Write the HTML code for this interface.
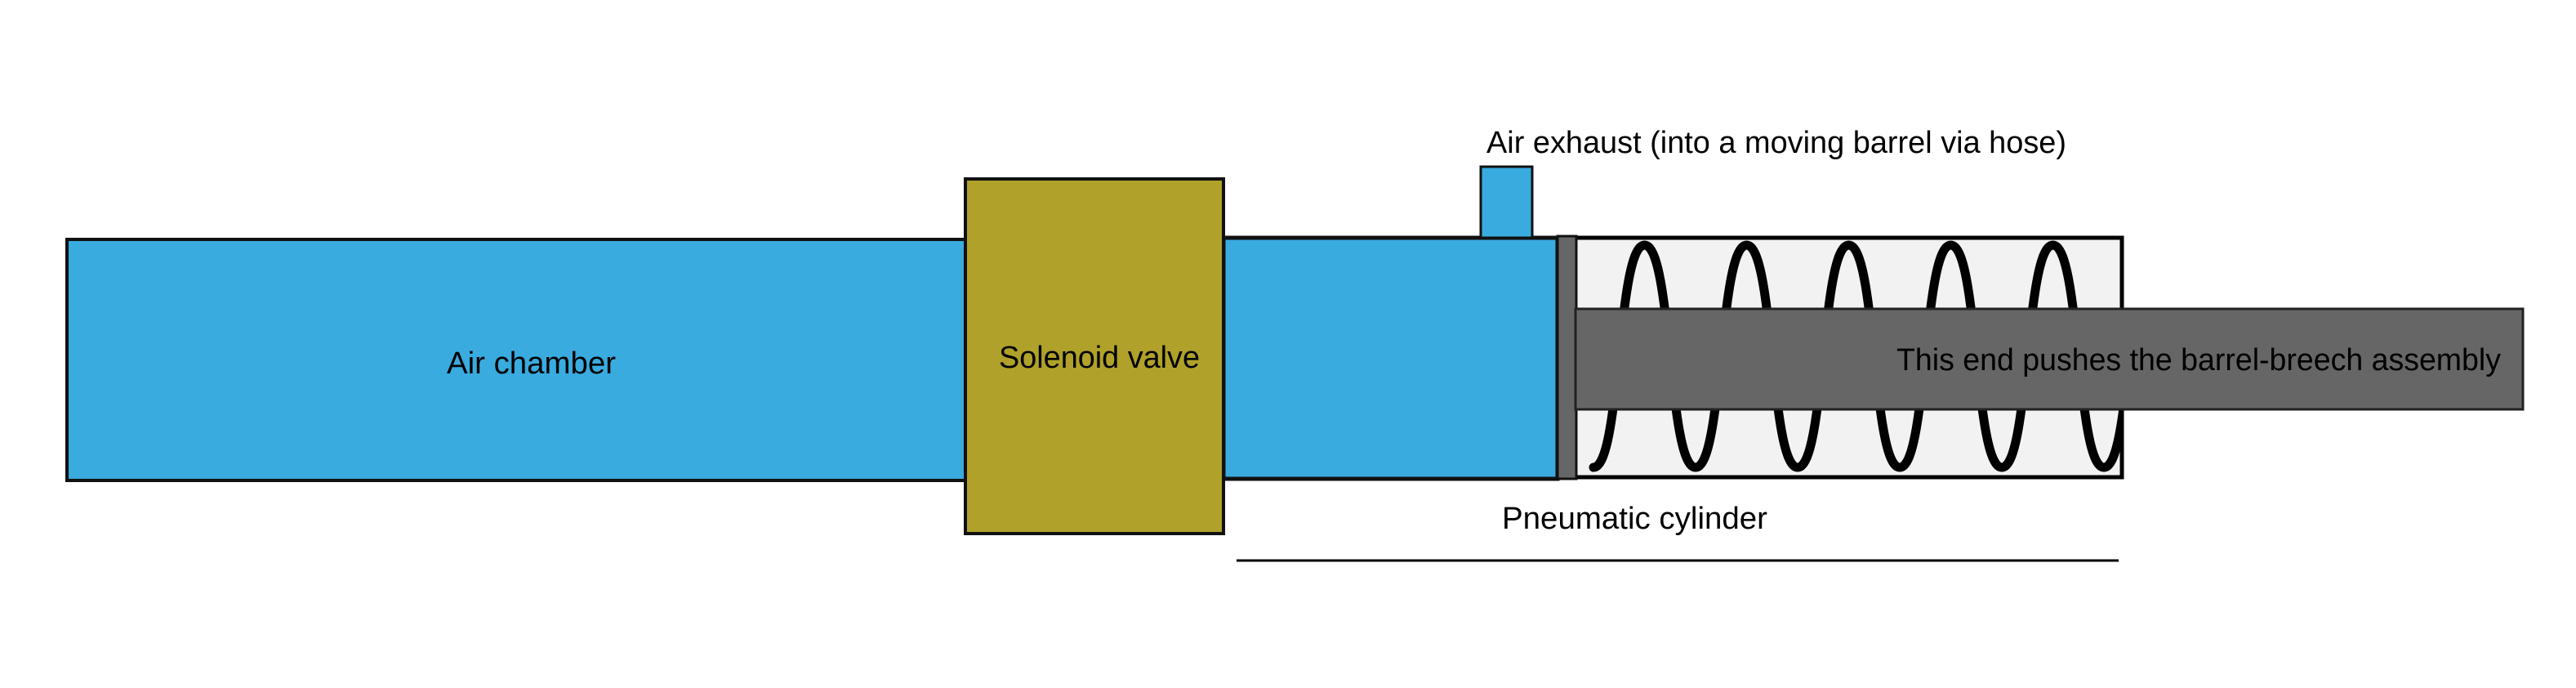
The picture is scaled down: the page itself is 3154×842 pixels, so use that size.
<!DOCTYPE html>
<html><head><meta charset="utf-8"><style>html,body{margin:0;padding:0;background:#fff}svg{display:block}</style></head>
<body>
<svg width="3154" height="842" viewBox="0 0 3154 842" xmlns="http://www.w3.org/2000/svg" font-family="Liberation Sans, sans-serif">
<defs><clipPath id="bx"><rect x="1930" y="293" width="666" height="290"/></clipPath></defs>
<!-- air chamber -->
<rect x="82" y="293" width="1100" height="295" fill="#39abdf" stroke="#111" stroke-width="4"/>
<!-- cylinder blue -->
<rect x="1498" y="291" width="409" height="295" fill="#39abdf" stroke="#111" stroke-width="5"/>
<!-- exhaust -->
<rect x="1813" y="204" width="63" height="87" fill="#39abdf" stroke="#111" stroke-width="3"/>
<!-- solenoid -->
<rect x="1182" y="219" width="316" height="434" fill="#b0a12a" stroke="#111" stroke-width="4"/>
<!-- spring box -->
<rect x="1928" y="291" width="670" height="293" fill="#f2f2f2" stroke="#000" stroke-width="5"/>
<!-- piston -->
<rect x="1907" y="289" width="23" height="297" fill="#666" stroke="#111" stroke-width="3"/>
<!-- spring -->
<g clip-path="url(#bx)">
<path d="M1951,572 c34,0 28.5,-272 62.5,-272 c34,0 28.5,272 62.5,272 c34,0 28.5,-272 62.5,-272 c34,0 28.5,272 62.5,272 c34,0 28.5,-272 62.5,-272 c34,0 28.5,272 62.5,272 c34,0 28.5,-272 62.5,-272 c34,0 28.5,272 62.5,272 c34,0 28.5,-272 62.5,-272 c34,0 28.5,272 62.5,272 c34,0 28.5,-272 62.5,-272" fill="none" stroke="#000" stroke-width="11" stroke-linecap="round"/>
</g>
<!-- rod -->
<rect x="1929" y="378" width="1160" height="123" fill="#666" stroke="#222" stroke-width="3"/>
<!-- underline -->
<line x1="1514" y1="686" x2="2594" y2="686" stroke="#000" stroke-width="3"/>
<!-- texts -->
<text x="547" y="457" font-size="38" textLength="207" lengthAdjust="spacingAndGlyphs">Air chamber</text>
<text x="1223" y="450" font-size="38" textLength="246" lengthAdjust="spacingAndGlyphs">Solenoid valve</text>
<text x="2322" y="453" font-size="38" textLength="740" lengthAdjust="spacingAndGlyphs">This end pushes the barrel-breech assembly</text>
<text x="1820" y="187" font-size="38" textLength="710" lengthAdjust="spacingAndGlyphs">Air exhaust (into a moving barrel via hose)</text>
<text x="1839" y="647" font-size="38" textLength="325" lengthAdjust="spacingAndGlyphs">Pneumatic cylinder</text>
</svg>
</body></html>
